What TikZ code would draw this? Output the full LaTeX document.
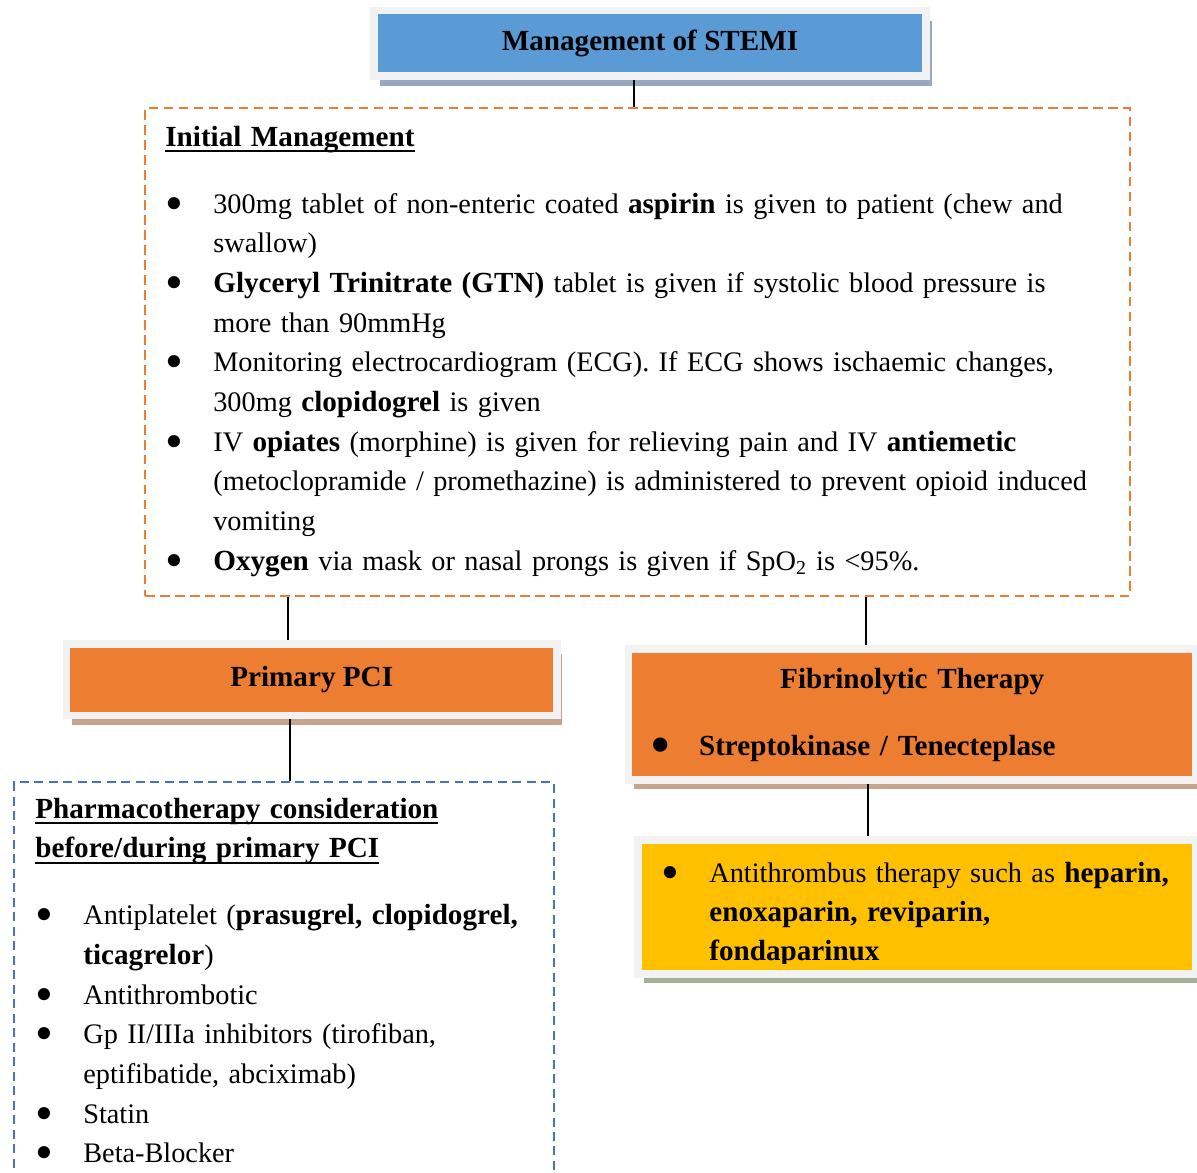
\documentclass[tikz,border=0pt]{standalone}
\usepackage{fontspec}
\setmainfont{Liberation Serif}[BoldFeatures={Scale=1.031}]
\usetikzlibrary{shadows}

\definecolor{stemiblue}{HTML}{5B9BD5}
\definecolor{pciorange}{HTML}{ED7D31}
\definecolor{therapygold}{HTML}{FFC000}
\definecolor{framegray}{HTML}{F2F2F2}
\definecolor{shadowblue}{HTML}{97A9C0}
\definecolor{shadowtan}{HTML}{C8A48E}
\definecolor{shadowsage}{HTML}{A4AF9A}
\definecolor{dashorange}{HTML}{ED7D31}
\definecolor{dashblue}{HTML}{4472C4}

% bold heading with a word-style underline
\newcommand{\headline}[1]{\setbox0\hbox{\bfseries #1}\rlap{\copy0}\rule[-3.4pt]{\wd0}{1.1pt}}
% bullet entry with hanging indent (close it with \par)
\newcommand{\bulletentry}{\hangindent=0.96cm\hangafter=1\noindent\hbox to 0.96cm{\smash{\raisebox{-4pt}{\fontsize{29pt}{29pt}\selectfont\textbullet}}\hfil}}

\tikzset{
	every node/.style={
		font=\fontsize{16.1pt}{22.6pt}\selectfont
	},
	framed box/.style={
		shape=rectangle,
		draw=framegray,
		line width=0.155cm,
		inner sep=0pt,
		font=\fontsize{16.1pt}{22.6pt}\selectfont\bfseries
	},
	title box/.style={
		framed box,
		fill=stemiblue,
		drop shadow={shadow xshift=0.12cm, shadow yshift=-0.2cm, fill=shadowblue, opacity=1}
	},
	route box/.style={
		framed box,
		fill=pciorange,
		drop shadow={shadow xshift=0.11cm, shadow yshift=-0.19cm, fill=shadowtan, opacity=1}
	},
	gold box/.style={
		framed box,
		fill=therapygold,
		drop shadow={shadow xshift=0.11cm, shadow yshift=-0.19cm, fill=shadowsage, opacity=1}
	},
	plan box/.style={
		shape=rectangle,
		draw=dashorange,
		line width=0.05cm,
		dash pattern=on 0.19cm off 0.11cm
	},
	drug box/.style={
		shape=rectangle,
		draw=dashblue,
		line width=0.045cm,
		dash pattern=on 0.18cm off 0.11cm
	},
	box text/.style={
		inner sep=0pt,
		anchor=base west
	},
	link/.style={
		draw=black,
		line width=0.03cm
	}
}

\begin{document}
\begin{tikzpicture}[x=0.02cm, y=-0.02cm]
	\useasboundingbox (0,0) rectangle (1197,1173);
	\clip (0,0) rectangle (1197,1173);

	\node[title box, minimum width=11.04cm, minimum height=1.31cm] (stemi) at (650,43.25) {Management of STEMI};

	% initial management
	\node[plan box, minimum width=19.7cm, minimum height=9.76cm] (initial) at (637.5,352) {};
	\node[box text, text width=19.2cm] (initialtext) at (165,146) {\raggedright
		\headline{Initial Management}\par
		\vspace{0.546cm}
		\bulletentry 300mg tablet of non-enteric coated \textbf{aspirin} is given to patient (chew and\newline swallow)\par
		\bulletentry \textbf{Glyceryl Trinitrate (GTN)} tablet is given if systolic blood pressure is\newline more than 90mmHg\par
		\bulletentry Monitoring electrocardiogram (ECG). If ECG shows ischaemic changes,\newline 300mg \textbf{clopidogrel} is given\par
		\bulletentry IV \textbf{opiates} (morphine) is given for relieving pain and IV \textbf{antiemetic}\newline (metoclopramide / promethazine) is administered to prevent opioid induced\newline vomiting\par
		\bulletentry \textbf{Oxygen} via mask or nasal prongs is given if SpO\textsubscript{2} is <95\%.\par};

	% primary PCI branch
	\node[route box, minimum width=9.81cm, minimum height=1.43cm] (primary) at (311.7,679.75) {Primary PCI};
	\node[drug box, minimum width=10.8cm, minimum height=8.56cm] (pharm) at (284,996) {};
	\node[box text, text width=10.2cm] (pharmtext) at (35,818) {\raggedright
		\headline{Pharmacotherapy consideration}\newline
		\headline{before/during primary PCI}\par
		\vspace{0.546cm}
		\bulletentry Antiplatelet (\textbf{prasugrel, clopidogrel,}\newline \textbf{ticagrelor})\par
		\bulletentry Antithrombotic\par
		\bulletentry Gp II/IIIa inhibitors (tirofiban,\newline eptifibatide, abciximab)\par
		\bulletentry Statin\par
		\bulletentry Beta-Blocker\par};

	% fibrinolytic branch
	\node[route box, minimum width=11.35cm, minimum height=2.62cm, text width=10.45cm] (fibrin) at (912.25,714.5) {%
		{\centering Fibrinolytic Therapy\par}
		\vspace{0.546cm}
		\bulletentry Streptokinase / Tenecteplase\par};
	\node[gold box, minimum width=11.16cm, minimum height=2.68cm] (antithrombus) at (917,907) {};
	\begin{scope}
		\clip (630,830) rectangle (1197,963);
		\node[box text, text width=10.6cm, font=\fontsize{16.1pt}{22.3pt}\selectfont] (antithrombustext) at (661,882) {\raggedright
			\bulletentry Antithrombus therapy such as \textbf{heparin,}\newline \textbf{enoxaparin, reviparin,}\newline \textbf{fondaparinux}\par};
	\end{scope}

	\draw[link] (634,0 |- stemi.south) -- (634,0 |- initial.north);
	\draw[link] (288,0 |- initial.south) -- (288,0 |- primary.north);
	\draw[link] (866,0 |- initial.south) -- (866,0 |- fibrin.north);
	\draw[link] (290,0 |- primary.south) -- (290,0 |- pharm.north);
	\draw[link] (868,0 |- fibrin.south) -- (868,0 |- antithrombus.north);
\end{tikzpicture}
\end{document}
